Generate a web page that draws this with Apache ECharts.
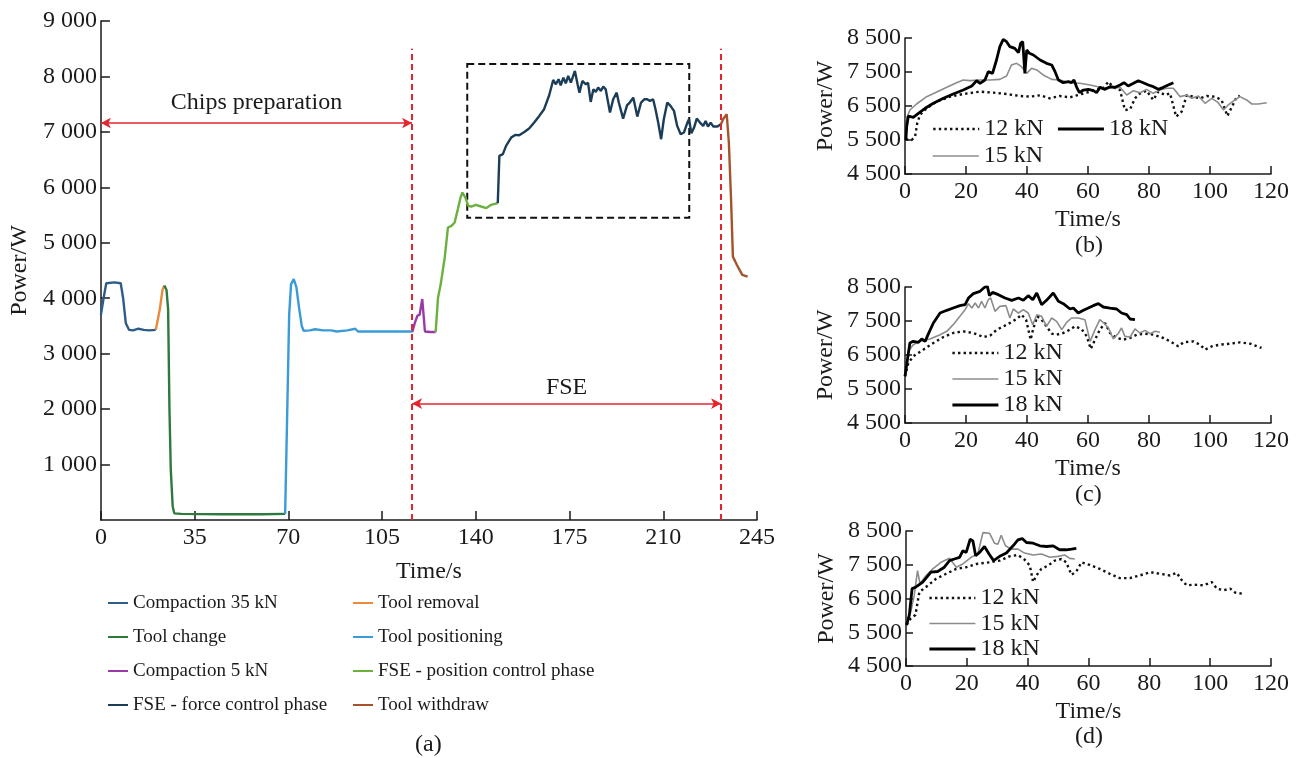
<!DOCTYPE html>
<html>
<head>
<meta charset="utf-8">
<script src="https://cdn.jsdelivr.net/npm/echarts@6/dist/echarts.min.js"></script>
<style>
  html, body { margin: 0; padding: 0; background: #fff; }
  #chart { width: 1305px; height: 758px; }
</style>
</head>
<body>
<div id="chart"></div>
<script>
// ---- (a) whole process, one array per phase: [time s, power W]
const compaction35 = [[0,3700],[1,4000],[2,4270],[5,4285],[7.4,4270],[8.3,4000],[9.3,3550],[10.5,3430],[12,3420],[14,3450],[16,3430],[18,3420],[20.5,3430]];
const toolRemoval = [[20.5,3430],[22,3800],[23,4150],[23.7,4230]];
const toolChange = [[23.7,4230],[24.5,4150],[25.1,3800],[25.6,2000],[26.1,900],[26.8,250],[27.4,120],[30,110],[45,105],[60,105],[68.8,110]];
const toolPositioning = [[68.8,110],[69.6,2000],[70.3,3700],[71,4250],[72,4345],[73,4200],[74,3826],[75,3500],[75.7,3414],[78,3420],[80,3440],[83,3420],[86,3420],[88,3400],[92,3420],[95,3450],[96,3400],[100,3400],[105,3400],[110,3400],[116.3,3400]];
const compaction5 = [[116.3,3390],[117.2,3550],[118.2,3685],[119,3700],[120,3985],[121,3400],[123,3390],[125,3390]];
const positionControl = [[125,3390],[125.9,4015],[126.9,4255],[128.4,4735],[129.6,5276],[130.9,5306],[132.1,5366],[133.3,5607],[134.3,5816],[135,5906],[136.1,5816],[137.2,5667],[138.3,5654],[140,5685],[142,5654],[143.9,5625],[145.7,5685],[148.2,5715]];
const forceControl = [[148.2,5715],[148.8,6568],[150.1,6598],[151.3,6748],[153.2,6898],[154.7,6946],[156.2,6940],[158.1,7000],[159.9,7060],[161.8,7168],[163.7,7288],[165.5,7409],[167.4,7661],[168.9,7937],[169.9,7859],[170.9,7949],[171.7,7841],[172.7,7978],[173.6,7877],[174.5,8009],[175.5,7889],[177,8099],[178,7859],[178.7,7708],[179.8,7919],[181.1,7859],[181.9,7889],[182.9,7541],[183.9,7769],[184.8,7721],[185.7,7799],[186.7,7739],[187.6,7817],[188.5,7769],[190.1,7348],[191.3,7589],[192.6,7708],[193.4,7529],[195,7240],[196.5,7481],[197.5,7529],[198.8,7619],[200.3,7276],[201.7,7529],[203,7589],[204,7589],[205,7559],[206.2,7589],[207.1,7409],[208.1,7168],[209.2,6868],[210.2,7228],[211.5,7529],[212.7,7469],[214,7379],[215.2,7108],[216.5,6958],[217.7,6988],[219,7168],[219.6,7228],[220.5,6976],[221.5,7078],[222.5,7240],[223.7,7168],[224.9,7108],[225.8,7198],[226.7,7096],[227.7,7168],[228.7,7096],[230.2,7096],[231.5,7138]];
const toolWithdraw = [[231.5,7138],[232.5,7240],[233.7,7318],[234.5,6800],[235.3,5800],[236,4750],[237.5,4600],[239.5,4420],[241.5,4390]];

const phaseNames = ['Compaction 35 kN','Tool change','Compaction 5 kN','FSE - force control phase',
                    'Tool removal','Tool positioning','FSE - position control phase','Tool withdraw'];
const phaseBounds = [116.2, 231.6];      // red dashed lines
const chipsArrowLevel = 7160;
const fseArrowLevel = 2100;
const zoomBox = [[136.8, 8225], [219.7, 5450]];

// ---- (b)(c)(d) FSE power for three forces: [time s, power W]
const b12 = [[0.3,5520],[2.2,5500],[3.3,5598],[4,5990],[4.9,6235],[7.1,6432],[10.4,6628],[14.8,6775],[19.1,6853],[24.6,6922],[29,6892],[33.3,6853],[37.7,6794],[41,6775],[44.3,6814],[47.5,6726],[50.8,6794],[54.1,6755],[57.9,6853],[61.8,6951],[65,7020],[66.7,7216],[68.3,7049],[70.5,6970],[72.1,6382],[73.8,6402],[75.4,6726],[77.1,6873],[79.2,6951],[81.4,6677],[83.1,6922],[85.3,6824],[86.9,6873],[88.9,6186],[90.7,6334],[92.4,6824],[94.5,6775],[96.7,6726],[98.9,6794],[101.6,6775],[103.8,6677],[105.7,6206],[107.1,6461],[108.8,6775],[109.8,6794]];
const b15 = [[0.3,6088],[1.6,6382],[3.8,6559],[7.1,6775],[10.4,6912],[13.7,7049],[16.9,7186],[19.1,7265],[21.3,7245],[24.6,7265],[27.9,7265],[31.1,7284],[33.3,7382],[34.9,7706],[36.6,7755],[38.2,7657],[39.9,7461],[41.5,7608],[43.2,7559],[45.3,7412],[48.1,7284],[50.8,7265],[54.1,7186],[57.4,7167],[60.7,7118],[63.9,7049],[67.2,7020],[70.5,7049],[72.7,6824],[74.9,6951],[77.1,6892],[79.2,6990],[81.4,6873],[83.6,6970],[85.8,7020],[88,7020],[90.2,6775],[92.4,6824],[94,6726],[96.2,6794],[98.4,6579],[100.6,6726],[102.7,6598],[104.4,6382],[106,6530],[108.2,6677],[109.8,6775],[112,6677],[113.7,6559],[115.8,6559],[118.6,6598]];
const b18 = [[0.3,5500],[0.55,5891],[1.1,6206],[2.7,6167],[4.4,6285],[6.6,6432],[9.3,6579],[12.6,6726],[15.8,6853],[19.1,6970],[21.9,7088],[23.5,7245],[24.6,7167],[26.2,7265],[27.3,7510],[28.7,7461],[30,7853],[31.1,8245],[32.2,8461],[33.3,8392],[34.4,8245],[36,8196],[37.2,8068],[37.9,8343],[38.6,8392],[39.3,7461],[39.9,8147],[40.8,8049],[42.1,8000],[44.3,7853],[46.4,7755],[48.1,7706],[49.2,7510],[50.3,7265],[51.9,7186],[53.6,7216],[54.6,7186],[55.4,7265],[56.3,7049],[57.2,6892],[58.5,6970],[60.1,6990],[61.8,6951],[62.8,6892],[63.9,7049],[65.6,6990],[67.2,7069],[68.9,7049],[70.5,7118],[71.8,7186],[73.2,7088],[74.9,7167],[76.5,7245],[78.1,7186],[79.8,7118],[81.4,7069],[83.1,6990],[84.7,7049],[86.3,7118],[88,7186]];

const c12 = [[0,5873],[1.1,6265],[2.7,6461],[6,6657],[9.3,6853],[12.6,7029],[15.8,7147],[19.1,7196],[22.4,7147],[25.7,7029],[27.9,7069],[30.1,7245],[33.4,7392],[36.6,7559],[38.2,7686],[39.7,7539],[41.2,6951],[42.1,7294],[43.4,7637],[44.8,7539],[46.4,7343],[48.1,7127],[49.7,7098],[51.9,7147],[54.1,7245],[55.7,7343],[57.9,7265],[59.6,7049],[60.9,6676],[62.3,6951],[63.9,7245],[65.6,7441],[67.2,7147],[69.4,7000],[71.6,6951],[73.8,7000],[76,7098],[78.7,7127],[81.4,7098],[84.7,7000],[86.9,6902],[89.6,6755],[91.3,6873],[94.5,6902],[96.7,6804],[98.4,6657],[100.6,6755],[103.3,6804],[106.6,6833],[109.8,6873],[113.1,6833],[116.9,6706]];
const c15 = [[0,5922],[1.1,6608],[2.7,6804],[4.9,6902],[8.2,6971],[11.5,7098],[13.7,7196],[15.8,7392],[18,7637],[19.7,7833],[20.8,8010],[21.9,7882],[23,8029],[24.1,7882],[25.1,8078],[26.2,7882],[27.3,8127],[28.1,8176],[29.5,7784],[31.1,7931],[33.1,7951],[34.4,7588],[35.5,7853],[37.2,7735],[38.8,7833],[40.4,7735],[41.9,7392],[43.2,7686],[44.8,7637],[46.4,7343],[48.1,7588],[49.7,7490],[51.4,7245],[53,7461],[54.6,7588],[56.8,7588],[59,7539],[60.7,6902],[62.3,7245],[63.9,7539],[65.2,7441],[66.7,7294],[68.3,6971],[70,7147],[71,7294],[72.1,7049],[73.8,7029],[75.4,7265],[77,7147],[78.7,7225],[80.3,7127],[82,7196],[83.6,7167]];
const c18 = [[0,5873],[0.8,6363],[1.6,6853],[2.7,6902],[4.4,6873],[5.5,6971],[6.6,6902],[7.7,7127],[9.3,7441],[11.5,7735],[13.7,7814],[15.8,7882],[18,7951],[19.7,7980],[20.8,8176],[22.4,8304],[24.6,8373],[26.2,8500],[27,8520],[27.7,8245],[28.7,8343],[30.6,8275],[32.8,8176],[35,8108],[37.2,8176],[38.8,8108],[40.4,8245],[41.9,8127],[43.2,8324],[44.8,7980],[46.4,8108],[48.6,8324],[50.3,8078],[51.9,8010],[54.1,7853],[55.2,7882],[56.8,7735],[58.5,7814],[60.1,7882],[61.7,7951],[63.4,8010],[65,7912],[67.2,7882],[69.4,7853],[71,7735],[72.7,7686],[73.8,7559],[75.4,7539]];

const d12 = [[0.2,5720],[1.6,5915],[3.1,6012],[4.4,6695],[6.6,6841],[9.9,7085],[13.2,7232],[16.5,7378],[19.8,7427],[23.1,7524],[27.5,7573],[30.8,7622],[34,7749],[36.8,7788],[39,7651],[40.7,7476],[41.8,6988],[42.9,7183],[44.5,7378],[46.7,7476],[48.9,7622],[51.1,7671],[52.7,7573],[54.4,7202],[56,7300],[57.7,7573],[60.4,7495],[63.7,7378],[67,7232],[70.3,7105],[73.6,7105],[76.9,7183],[80.2,7280],[83.5,7232],[86.8,7183],[89,7261],[90.7,7037],[92.3,6890],[94.5,6910],[97.8,6890],[100.5,6988],[102.2,6793],[104.4,6744],[106.6,6793],[108.2,6676],[110.4,6646]];
const d15 = [[0.2,5817],[1.6,6110],[2.7,6598],[3.8,7329],[4.6,6939],[6.6,7183],[8.8,7378],[11.5,7573],[14.3,7690],[16.5,7427],[18.7,7524],[21.4,7720],[23.6,7817],[25.3,8451],[27.5,8432],[29.1,8139],[30.2,8110],[31.3,8373],[32.7,8061],[34.6,7963],[36.8,7963],[39,7846],[41.8,7788],[44.5,7817],[47.3,7720],[50,7749],[52.2,7788],[53.8,7690],[55.5,7671]];
const d18 = [[0.2,5720],[1.1,6012],[2,6793],[3.3,6841],[5.5,6988],[8.2,7280],[10.4,7300],[12.6,7427],[14.3,7622],[15.9,7671],[17.6,7720],[18.7,7915],[19.8,7866],[21.1,8256],[22,8207],[22.9,7768],[24.2,7866],[25.8,8041],[27.3,7817],[28.8,7622],[30.8,7749],[33,7846],[35.2,8061],[36.8,8237],[38.2,8276],[39.6,8159],[41.8,8139],[44,8061],[46.2,8041],[48.4,8061],[50.5,7944],[52.7,7944],[54.4,7963],[56,7983]];

const forceNames = ['12 kN', '15 kN', '18 kN'];
const panelLabels = ['(a)', '(b)', '(c)', '(d)'];

const FONT = 'Liberation Serif';
const INK = '#1a1a1a';

function fmt(v) {
  if (v < 1000) return String(v);
  return Math.floor(v / 1000) + ' ' + String(v % 1000).padStart(3, '0');
}

const chart = echarts.init(document.getElementById('chart'), null, { renderer: 'canvas' });

const phaseColors = {
  'Compaction 35 kN': '#2d5c88',
  'Tool removal': '#ec8a3c',
  'Tool change': '#2e7a3e',
  'Tool positioning': '#3b9ad8',
  'Compaction 5 kN': '#9a3aa8',
  'FSE - position control phase': '#6cb040',
  'FSE - force control phase': '#1c3d58',
  'Tool withdraw': '#a5532c',
};

function phaseLine(name, data, extra) {
  return Object.assign({
    name, type: 'line', data, xAxisIndex: 0, yAxisIndex: 0,
    symbol: 'none', smooth: false, color: phaseColors[name],
    lineStyle: { width: 2.4, color: phaseColors[name] },
    z: 3,
  }, extra || {});
}

const forceStyle = {
  '12 kN': { color: '#111', width: 2.4, type: [2.4, 3.2] },
  '15 kN': { color: '#8c8c8c', width: 1.6, type: 'solid' },
  '18 kN': { color: '#000', width: 2.8, type: 'solid' },
};

function forceLine(name, data, idx) {
  const s = forceStyle[name];
  return {
    name, type: 'line', data, xAxisIndex: idx, yAxisIndex: idx,
    symbol: 'none', color: s.color,
    lineStyle: { width: s.width, color: s.color, type: s.type },
    z: name === '18 kN' ? 4 : 3,
  };
}

const arrowLabel = (text, dist) => ({
  show: true, position: 'insideMiddleTop', formatter: text, distance: dist,
  color: INK, fontFamily: FONT, fontSize: 24,
});

const grids = [
  { left: 98, top: 21, width: 659, height: 499 },
  { left: 905, top: 38, width: 366, height: 136 },
  { left: 905, top: 287, width: 366, height: 136 },
  { left: 906, top: 531, width: 365, height: 135 },
];

const axisLine = { show: true, onZero: false, lineStyle: { color: INK, width: 1.5 } };
const tickStyle = { lineStyle: { color: INK, width: 1.5 } };
const labelStyle = { color: INK, fontFamily: FONT, fontSize: 24 };
const nameStyle = { color: INK, fontFamily: FONT, fontSize: 24 };

const xAxes = [
  {
    gridIndex: 0, type: 'value', min: 0, max: 245, interval: 35,
    axisLine, axisTick: Object.assign({ inside: true, length: 9 }, tickStyle),
    axisLabel: Object.assign({ margin: 6 }, labelStyle),
    splitLine: { show: false },
    name: 'Time/s', nameLocation: 'middle', nameGap: 40, nameTextStyle: nameStyle,
  },
];
const yAxes = [
  {
    gridIndex: 0, type: 'value', min: 0, max: 9000, interval: 1000,
    axisLine, axisTick: Object.assign({ inside: true, length: 9 }, tickStyle),
    axisLabel: Object.assign({ margin: 4, showMinLabel: false, formatter: fmt }, labelStyle),
    splitLine: { show: false },
    name: 'Power/W', nameLocation: 'middle', nameGap: 61, nameRotate: 90, nameTextStyle: nameStyle,
  },
];
for (let i = 1; i <= 3; i++) {
  xAxes.push({
    gridIndex: i, type: 'value', min: 0, max: 120, interval: 20,
    axisLine, axisTick: Object.assign({ inside: true, length: 8 }, tickStyle),
    axisLabel: Object.assign({ margin: 6 }, labelStyle),
    splitLine: { show: false },
    name: 'Time/s', nameLocation: 'middle', nameGap: 34, nameTextStyle: nameStyle,
  });
  yAxes.push({
    gridIndex: i, type: 'value', min: 4500, max: 8500, interval: 1000,
    axisLine, axisTick: Object.assign({ inside: true, length: 7 }, tickStyle),
    axisLabel: Object.assign({ margin: 4, formatter: fmt }, labelStyle),
    splitLine: { show: false },
    name: 'Power/W', nameLocation: 'middle', nameGap: 67, nameRotate: 90, nameTextStyle: nameStyle,
  });
}

const series = [
  phaseLine('Compaction 35 kN', compaction35, {
    markLine: {
      silent: true, animation: false,
      lineStyle: { color: '#e3262e', width: 1.6, type: 'solid' },
      symbol: ['arrow', 'arrow'], symbolSize: [8, 10],
      data: [
        [{ coord: [0, chipsArrowLevel], label: arrowLabel('Chips preparation', 8) },
         { coord: [phaseBounds[0], chipsArrowLevel] }],
        [{ coord: [phaseBounds[0], fseArrowLevel], label: arrowLabel('FSE', 4) },
         { coord: [phaseBounds[1], fseArrowLevel] }],
      ],
    },
  }),
  phaseLine('Tool removal', toolRemoval),
  phaseLine('Tool change', toolChange),
  phaseLine('Tool positioning', toolPositioning),
  phaseLine('Compaction 5 kN', compaction5),
  phaseLine('FSE - position control phase', positionControl, {
    markLine: {
      silent: true, animation: false, symbol: ['none', 'none'],
      label: { show: false },
      lineStyle: { color: '#e3262e', width: 2, type: [6, 4] },
      data: phaseBounds.map(t => [{ coord: [t, 0] }, { coord: [t, 8500] }]),
    },
  }),
  phaseLine('FSE - force control phase', forceControl, {
    markArea: {
      silent: true, animation: false,
      itemStyle: { color: 'rgba(0,0,0,0)', borderColor: '#111', borderWidth: 2, borderType: [7, 4] },
      data: [[{ coord: zoomBox[0] }, { coord: zoomBox[1] }]],
    },
  }),
  phaseLine('Tool withdraw', toolWithdraw),
  forceLine('12 kN', b12, 1), forceLine('15 kN', b15, 1), forceLine('18 kN', b18, 1),
  forceLine('12 kN', c12, 2), forceLine('15 kN', c15, 2), forceLine('18 kN', c18, 2),
  forceLine('12 kN', d12, 3), forceLine('15 kN', d15, 3), forceLine('18 kN', d18, 3),
];

const legendText = (size, lh) => ({ color: INK, fontFamily: FONT, fontSize: size, lineHeight: lh, padding: 0 });
const mainLegend = (left, names) => ({
  left, top: 591, orient: 'vertical', data: names, icon: 'rect',
  itemWidth: 20, itemHeight: 2, itemGap: 10, padding: 0, selectedMode: false,
  textStyle: legendText(19, 24),
});
const forceLegend = (left, top, names, orient, gap) => ({
  left, top, orient, itemWidth: 46, itemHeight: 14, itemGap: gap,
  padding: 0, selectedMode: false, textStyle: legendText(24, 22),
  itemStyle: { opacity: 0 },
  data: names.map(n => ({
    name: n,
    lineStyle: { width: forceStyle[n].width, color: forceStyle[n].color, type: forceStyle[n].type },
  })),
});

const option = {
  animation: false,
  backgroundColor: '#fff',
  grid: grids,
  xAxis: xAxes,
  yAxis: yAxes,
  legend: [
    mainLegend(108, phaseNames.slice(0, 4)),
    mainLegend(353, phaseNames.slice(4)),
    forceLegend(932, 117, ['12 kN', '18 kN'], 'horizontal', 13),
    forceLegend(932, 144, ['15 kN'], 'horizontal', 10),
    forceLegend(951, 341, forceNames, 'vertical', 2),
    forceLegend(928, 586, forceNames, 'vertical', 1.5),
  ],
  graphic: [
    { type: 'text', left: 415, top: 733, style: { text: panelLabels[0], fill: INK, font: '24px "Liberation Serif"' } },
    { type: 'text', left: 1075, top: 234, style: { text: panelLabels[1], fill: INK, font: '24px "Liberation Serif"' } },
    { type: 'text', left: 1075, top: 483, style: { text: panelLabels[2], fill: INK, font: '24px "Liberation Serif"' } },
    { type: 'text', left: 1075, top: 725, style: { text: panelLabels[3], fill: INK, font: '24px "Liberation Serif"' } },
  ],
  series,
};

chart.setOption(option);
</script>
</body>
</html>
